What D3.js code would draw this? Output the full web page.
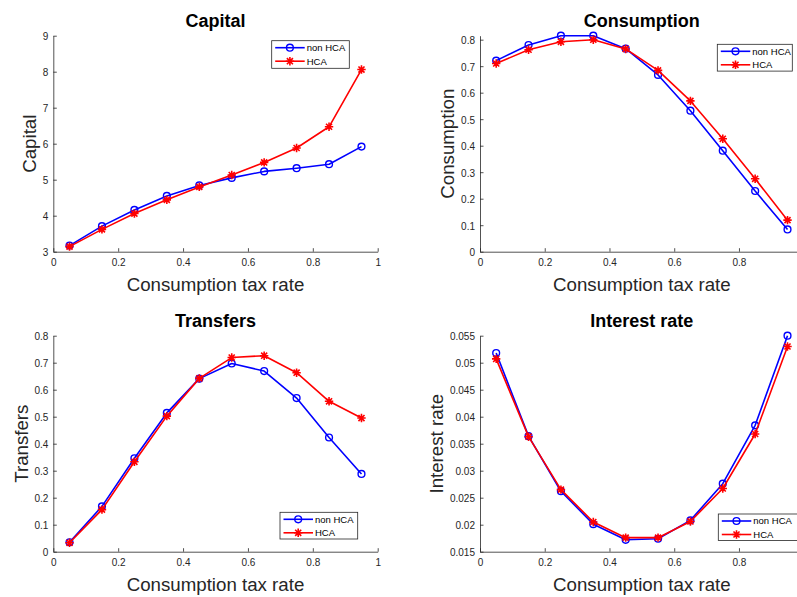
<!DOCTYPE html>
<html>
<head>
<meta charset="utf-8">
<script src="https://cdn.jsdelivr.net/npm/d3@7"></script>
<style>
  html, body { margin: 0; padding: 0; background: #ffffff; }
  svg { display: block; font-family: "Liberation Sans", Arial, Helvetica, sans-serif; }
</style>
</head>
<body>
<svg id="fig" width="797" height="597"></svg>
<script>
// Consumption tax rate grid shared by all panels
const taxRate = [0.05, 0.15, 0.25, 0.35, 0.45, 0.55, 0.65, 0.75, 0.85, 0.95];

// Capital
const capitalNonHCA = [3.17, 3.71, 4.16, 4.55, 4.84, 5.05, 5.23, 5.32, 5.43, 5.92];
const capitalHCA    = [3.14, 3.62, 4.06, 4.44, 4.80, 5.13, 5.48, 5.88, 6.47, 8.06];

// Consumption
const consumptionNonHCA = [0.721, 0.780, 0.815, 0.815, 0.766, 0.667, 0.532, 0.381, 0.229, 0.084];
const consumptionHCA    = [0.710, 0.762, 0.792, 0.800, 0.765, 0.684, 0.569, 0.426, 0.275, 0.119];

// Transfers
const transfersNonHCA = [0.035, 0.168, 0.346, 0.514, 0.641, 0.697, 0.669, 0.569, 0.423, 0.288];
const transfersHCA    = [0.033, 0.156, 0.333, 0.502, 0.642, 0.719, 0.726, 0.663, 0.557, 0.495];

// Interest rate
const interestNonHCA = [0.0518, 0.0364, 0.0262, 0.0201, 0.0172, 0.0174, 0.0208, 0.0276, 0.0384, 0.0550];
const interestHCA    = [0.0507, 0.0363, 0.0265, 0.0205, 0.0176, 0.0176, 0.0206, 0.0267, 0.0368, 0.0530];

// Tick values
const xTickValues = [0, 0.2, 0.4, 0.6, 0.8, 1];
const capitalTicks = [3, 4, 5, 6, 7, 8, 9];
const shareTicks = [0, 0.1, 0.2, 0.3, 0.4, 0.5, 0.6, 0.7, 0.8];
const interestTicks = [0.015, 0.02, 0.025, 0.03, 0.035, 0.04, 0.045, 0.05, 0.055];

const seriesNames = ["non HCA", "HCA"];
const xLabel = "Consumption tax rate";

const WIDTH = 797;

const panels = [
  { title: "Capital", ylabel: "Capital", nonHCA: capitalNonHCA, HCA: capitalHCA,
    yDomain: [3, 9], yTicks: capitalTicks,
    box: [53.3, 35.7, 377.7, 251.7], legend: [271.7, 40.7, 77.6, 27.6] },
  { title: "Consumption", ylabel: "Consumption", nonHCA: consumptionNonHCA, HCA: consumptionHCA,
    yDomain: [0, 0.815], yTicks: shareTicks,
    box: [480, 35.7, 803.7, 251.7], legend: [717.3, 44.3, 75, 26.8] },
  { title: "Transfers", ylabel: "Transfers", nonHCA: transfersNonHCA, HCA: transfersHCA,
    yDomain: [0, 0.8], yTicks: shareTicks,
    box: [53.3, 335.7, 377.7, 551.7], legend: [280, 512.3, 77.7, 26.7] },
  { title: "Interest rate", ylabel: "Interest rate", nonHCA: interestNonHCA, HCA: interestHCA,
    yDomain: [0.015, 0.055], yTicks: interestTicks,
    box: [480, 335.7, 803.7, 551.7], legend: [718.3, 514, 80, 26.5] }
];

const BLUE = "#0000ff", RED = "#ff0000", INK = "#262626";
const fmt = d3.format("~g");
const svg = d3.select("#fig");

// Asterisk marker: a "+" overlaid with an "x"
function asteriskPath(r) {
  const d = r * 0.72;
  return `M${-r},0L${r},0M0,${-r}L0,${r}M${-d},${-d}L${d},${d}M${-d},${d}L${d},${-d}`;
}

function drawMarker(g, kind, color) {
  if (kind === "circle") {
    g.append("circle").attr("r", 3.4).attr("fill", "none")
      .attr("stroke", color).attr("stroke-width", 1.4);
  } else {
    g.append("path").attr("d", asteriskPath(4.2)).attr("fill", "none")
      .attr("stroke", color).attr("stroke-width", 1.6);
  }
}

panels.forEach(p => {
  const [x0, y0, x1, y1] = p.box;
  const x = d3.scaleLinear().domain([0, 1]).range([x0, x1]);
  const y = d3.scaleLinear().domain(p.yDomain).range([y1, y0]);
  const g = svg.append("g");

  // Only label the x ticks that fall inside the figure
  const xTicks = xTickValues.filter(t => x(t) + 4 <= WIDTH);

  // Axes (box off, ticks pointing inward)
  const xAxis = g.append("g").attr("transform", `translate(0,${y1})`)
    .call(d3.axisBottom(x).tickValues(xTicks).tickFormat(fmt)
      .tickSizeInner(-3.5).tickSizeOuter(0).tickPadding(7.5));
  const yAxis = g.append("g").attr("transform", `translate(${x0},0)`)
    .call(d3.axisLeft(y).tickValues(p.yTicks).tickFormat(fmt)
      .tickSizeInner(-3.5).tickSizeOuter(0).tickPadding(5));
  [xAxis, yAxis].forEach(a => {
    a.select(".domain").attr("stroke", INK).attr("stroke-width", 0.8);
    a.selectAll(".tick line").attr("stroke", INK).attr("stroke-width", 0.8);
    a.selectAll(".tick text").attr("fill", INK).attr("font-size", 10)
      .attr("font-family", "Liberation Sans, Arial, sans-serif");
  });
  yAxis.selectAll(".tick text").attr("dy", "0.4em");

  // Title and axis labels
  g.append("text").attr("x", (x0 + Math.min(x1, 803.7)) / 2).attr("y", y0 - 9)
    .attr("text-anchor", "middle").attr("font-weight", "bold")
    .attr("font-size", 18).attr("fill", "#000").text(p.title);
  g.append("text").attr("x", (x0 + x1) / 2).attr("y", y1 + 39.3)
    .attr("text-anchor", "middle").attr("font-size", 18.7)
    .attr("fill", INK).text(xLabel);

  const tickLeft = x0 + yAxis.selectAll(".tick text").nodes()
    .reduce((m, n) => Math.min(m, n.getBBox().x), 0);
  const cx = tickLeft - 13.5, cy = (y0 + y1) / 2;
  g.append("text").attr("transform", `translate(${cx},${cy}) rotate(-90)`)
    .attr("text-anchor", "middle").attr("dy", "0.36em").attr("font-size", 18.7)
    .attr("fill", INK).text(p.ylabel);

  // Series
  const series = [
    { values: p.nonHCA, color: BLUE, marker: "circle" },
    { values: p.HCA, color: RED, marker: "asterisk" }
  ];
  const line = d3.line().x((d, i) => x(taxRate[i])).y(d => y(d));
  series.forEach(s => {
    g.append("path").datum(s.values).attr("d", line).attr("fill", "none")
      .attr("stroke", s.color).attr("stroke-width", 1.6).attr("stroke-linejoin", "round");
    g.selectAll(null).data(s.values).enter().append("g")
      .attr("transform", (d, i) => `translate(${x(taxRate[i])},${y(d)})`)
      .each(function () { drawMarker(d3.select(this), s.marker, s.color); });
  });

  // Legend
  const [lx, ly, lw, lh] = p.legend;
  const lg = g.append("g").attr("transform", `translate(${lx},${ly})`);
  lg.append("rect").attr("width", lw).attr("height", lh)
    .attr("fill", "#fff").attr("stroke", INK).attr("stroke-width", 0.8);
  series.forEach((s, i) => {
    const ry = 7 + i * 13.5;
    lg.append("line").attr("x1", 3.5).attr("x2", 33).attr("y1", ry).attr("y2", ry)
      .attr("stroke", s.color).attr("stroke-width", 1.6);
    const m = lg.append("g").attr("transform", `translate(18.2,${ry})`);
    drawMarker(m, s.marker, s.color);
    lg.append("text").attr("x", 35).attr("y", ry).attr("dy", "0.35em")
      .attr("font-size", 9.5).attr("fill", "#000").text(seriesNames[i]);
  });
});
</script>
</body>
</html>
